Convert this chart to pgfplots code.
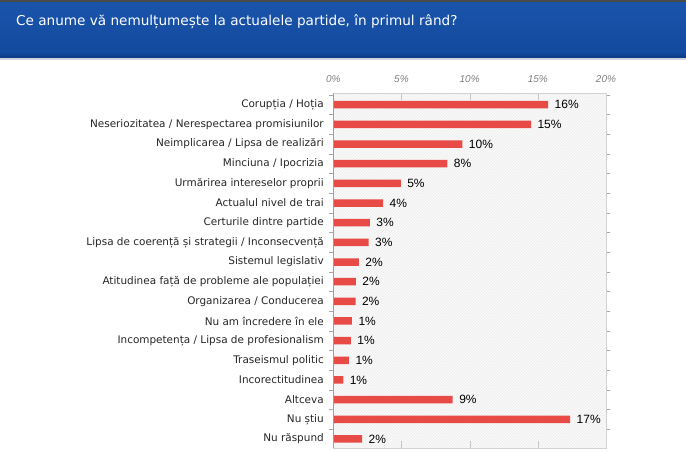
\documentclass[border=0pt]{standalone}
\usepackage{pgfplots}
\pgfplotsset{compat=1.18}
\usepackage{pgfplotstable}
\usepackage{fontspec}
\setmainfont{Liberation Sans}
\newfontfamily\dejavu{DejaVu Sans}
\usetikzlibrary{patterns}
\definecolor{barred}{HTML}{E84A45}
\definecolor{hdrtop}{HTML}{1A54AA}
\definecolor{hdrbot}{HTML}{124A9E}
\definecolor{hdrdark}{HTML}{0D3A80}
\definecolor{topbar}{HTML}{4A4A4A}
\pgfplotstableread{
x y lab
15.76 0 16
14.50 1 15
9.47 2 10
8.37 3 8
4.95 4 5
3.66 5 4
2.68 6 3
2.59 7 3
1.88 8 2
1.66 9 2
1.63 10 2
1.37 11 1
1.29 12 1
1.15 13 1
0.73 14 1
8.76 15 9
17.37 16 17
2.12 17 2
}\datatable
\begin{document}
\begin{tikzpicture}
\useasboundingbox (0pt,0pt) rectangle (686pt,-452pt);
\fill[white] (0pt,0pt) rectangle (686pt,-452pt);
\fill[topbar] (0pt,0pt) rectangle (686pt,-3pt);
\shade[top color=hdrtop, bottom color=hdrbot] (0pt,-3pt) rectangle (686pt,-52pt);
\shade[top color=hdrbot, bottom color=hdrdark] (0pt,-52pt) rectangle (686pt,-58.5pt);
\fill[blue!15!gray!30] (0pt,-58.5pt) rectangle (686pt,-60pt);
\node[anchor=west, text=white, font=\dejavu\fontsize{13.6}{16}\selectfont, inner sep=0pt] at (16pt,-22pt) {Ce anume vă nemulțumește la actualele partide, în primul rând?};
\begin{axis}[
  at={(333.3pt,-93pt)}, anchor=north west,
  scale only axis, width=272.7pt, height=355pt,
  xbar, bar width=7.5pt,
  xmin=0, xmax=20,
  ymin=-0.595, ymax=17.46,
  y dir=reverse,
  axis background/.style={fill=gray!5, postaction={pattern=north east lines, pattern color=gray!14}},
  axis line style={gray!35},
  xtick={0,5,10,15,20},
  xticklabels={0\%,5\%,10\%,15\%,20\%},
  xticklabel pos=upper,
  xtick align=inside,
  major tick length=7pt,
  major x tick style={gray!45},
  xticklabel style={font=\fontsize{10}{12}\selectfont\itshape, text=gray, yshift=7pt},
  ytick={0,...,17},
  yticklabels={{Corupția / Hoția},{Neseriozitatea / Nerespectarea promisiunilor},{Neimplicarea / Lipsa de realizări},{Minciuna / Ipocrizia},{Urmărirea intereselor proprii},{Actualul nivel de trai},{Certurile dintre partide},{Lipsa de coerență și strategii / Inconsecvență},{Sistemul legislativ},{Atitudinea față de probleme ale populației},{Organizarea / Conducerea},{Nu am încredere în ele},{Incompetența / Lipsa de profesionalism},{Traseismul politic},{Incorectitudinea},{Altceva},{Nu știu},{Nu răspund}},
  major y tick style={draw=none},
  minor ytick={-0.5,0.5,...,16.5},
  minor tick length=4pt,
  ytick align=outside,
  minor y tick style={gray!70},
  yticklabel style={font=\dejavu\fontsize{10.45}{13}\selectfont, text=black!85, xshift=1pt},
  nodes near coords={\pgfplotspointmeta\%},
  point meta=explicit symbolic,
  every node near coord/.append style={font=\fontsize{12}{14}\selectfont, text=black, anchor=west, xshift=3pt},
  after end axis/.code={\draw[gray!75] (rel axis cs:0,0)--(rel axis cs:0,1);},
]
\addplot[fill=barred, draw=none] table[x=x, y=y, meta=lab] {\datatable};
\end{axis}
\end{tikzpicture}
\end{document}
